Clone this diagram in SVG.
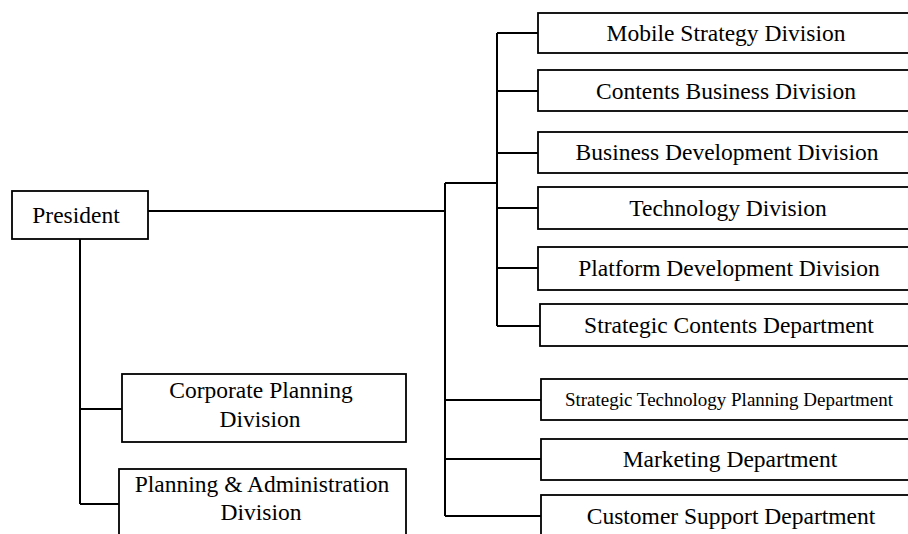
<svg xmlns="http://www.w3.org/2000/svg" width="908" height="534" viewBox="0 0 908 534">
<style>
.box{fill:#fff;stroke:#000;stroke-width:1.8}
.t{font-family:"Liberation Serif","Times New Roman",serif;font-size:23.5px;fill:#000;text-anchor:middle}
.s{font-size:19px}
.c{fill:none;stroke:#000;stroke-width:2}
</style>
<rect width="908" height="534" fill="#fff"/>
<g id="connectors">
<path class="c" d="M148 211H445M445 183V516M445 183H497M497 33V326"/>
<path class="c" d="M497 33H538M497 91H538M497 153H538M497 208H538M497 268H538M497 326H540"/>
<path class="c" d="M445 400H541M445 459H541M445 516H541"/>
<path class="c" d="M80 239V504M80 409H122M80 504H119"/>
</g>
<g id="president"><rect class="box" x="12" y="191" width="136" height="48"/><text class="t" x="76" y="223">President</text></g>
<g id="mobile"><rect class="box" x="538" y="13" width="390" height="40"/><text class="t" x="726" y="41">Mobile Strategy Division</text></g>
<g id="contents"><rect class="box" x="538" y="70" width="390" height="41"/><text class="t" x="726" y="99">Contents Business Division</text></g>
<g id="busdev"><rect class="box" x="538" y="132" width="390" height="41"/><text class="t" x="727" y="160">Business Development Division</text></g>
<g id="tech"><rect class="box" x="538" y="187" width="390" height="42"/><text class="t" x="728" y="216">Technology Division</text></g>
<g id="platform"><rect class="box" x="538" y="247" width="390" height="43"/><text class="t" x="729" y="276">Platform Development Division</text></g>
<g id="stratcontents"><rect class="box" x="540" y="304" width="390" height="42"/><text class="t" x="729" y="333">Strategic Contents Department</text></g>
<g id="stp"><rect class="box" x="541" y="379" width="390" height="41"/><text class="t s" x="729" y="406">Strategic Technology Planning Department</text></g>
<g id="marketing"><rect class="box" x="541" y="439" width="390" height="41"/><text class="t" x="730" y="467">Marketing Department</text></g>
<g id="customer"><rect class="box" x="541" y="495" width="390" height="50"/><text class="t" x="731" y="524">Customer Support Department</text></g>
<g id="corporate"><rect class="box" x="122" y="374" width="284" height="68"/><text class="t" x="261" y="398">Corporate Planning</text><text class="t" x="260" y="427">Division</text></g>
<g id="planadmin"><rect class="box" x="119" y="469" width="287" height="80"/><text class="t" x="262" y="492">Planning &amp; Administration</text><text class="t" x="261" y="520">Division</text></g>
</svg>
